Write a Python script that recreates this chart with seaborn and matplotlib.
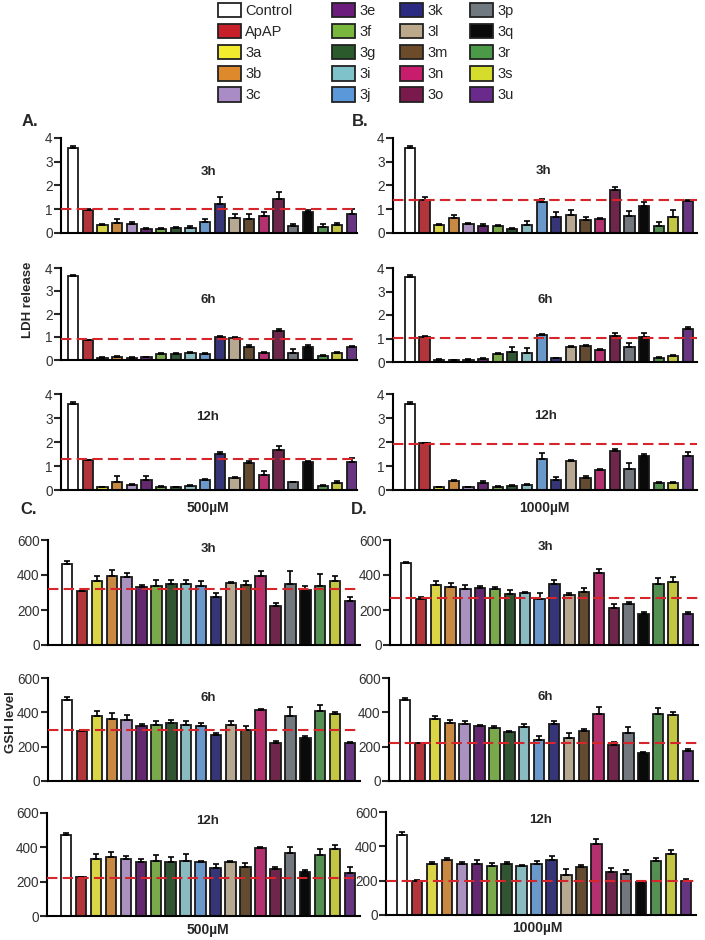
import numpy as np
import pandas as pd
import matplotlib
matplotlib.use('Agg')
import matplotlib.pyplot as plt
import seaborn as sns
from matplotlib.patches import Patch

# Compounds and their bar colours
compounds = ['Control', 'ApAP', '3a', '3b', '3c', '3e', '3f', '3g', '3i', '3j',
             '3k', '3l', '3m', '3n', '3o', '3p', '3q', '3r', '3s', '3u']
bar_colors = ['#FFFFFF', '#C8202A', '#F2EC2E', '#DE8A2C', '#A98BC6', '#6C1C7C',
              '#79B83C', '#2B5B2C', '#80C2CA', '#5A98DA', '#2A2A82', '#BCA98B',
              '#6B4B2A', '#C81C6C', '#7A1A4C', '#707880', '#0A0A0A', '#4A9A48',
              '#D6DC2C', '#6A2A8C']

# LDH release, 500 uM (3h / 6h / 12h) -- mean and upper error
ldh_500_3h = [3.58, 0.96, 0.33, 0.42, 0.37, 0.18, 0.18, 0.21, 0.23, 0.47, 1.20, 0.64, 0.57, 0.73, 1.44, 0.28, 0.89, 0.25, 0.35, 0.78]
ldh_500_3h_err = [0.10, 0.03, 0.07, 0.15, 0.10, 0.04, 0.04, 0.03, 0.05, 0.14, 0.32, 0.15, 0.25, 0.14, 0.30, 0.11, 0.08, 0.11, 0.09, 0.22]
ldh_500_6h = [3.64, 0.85, 0.10, 0.13, 0.10, 0.12, 0.26, 0.25, 0.29, 0.26, 0.99, 0.95, 0.55, 0.30, 1.27, 0.30, 0.58, 0.17, 0.30, 0.58]
ldh_500_6h_err = [0.07, 0.03, 0.03, 0.03, 0.03, 0.03, 0.06, 0.04, 0.05, 0.05, 0.06, 0.07, 0.10, 0.05, 0.08, 0.20, 0.06, 0.03, 0.06, 0.05]
ldh_500_12h = [3.58, 1.24, 0.11, 0.35, 0.20, 0.42, 0.14, 0.11, 0.17, 0.42, 1.49, 0.49, 1.11, 0.63, 1.67, 0.32, 1.18, 0.17, 0.28, 1.15]
ldh_500_12h_err = [0.07, 0.03, 0.03, 0.25, 0.07, 0.18, 0.03, 0.02, 0.03, 0.05, 0.11, 0.05, 0.10, 0.17, 0.17, 0.03, 0.03, 0.03, 0.10, 0.20]

# LDH release, 1000 uM
ldh_1000_3h = [3.58, 1.38, 0.35, 0.63, 0.38, 0.31, 0.28, 0.18, 0.35, 1.30, 0.67, 0.77, 0.53, 0.59, 1.80, 0.70, 1.12, 0.28, 0.66, 1.36]
ldh_1000_3h_err = [0.08, 0.14, 0.05, 0.14, 0.05, 0.05, 0.04, 0.03, 0.14, 0.13, 0.21, 0.18, 0.14, 0.05, 0.12, 0.21, 0.17, 0.17, 0.29, 0.03]
ldh_1000_6h = [3.62, 1.08, 0.10, 0.08, 0.10, 0.12, 0.34, 0.44, 0.40, 1.15, 0.16, 0.65, 0.68, 0.51, 1.11, 0.65, 1.05, 0.18, 0.27, 1.39]
ldh_1000_6h_err = [0.07, 0.03, 0.02, 0.02, 0.02, 0.03, 0.04, 0.21, 0.18, 0.05, 0.02, 0.04, 0.05, 0.04, 0.11, 0.14, 0.17, 0.04, 0.04, 0.11]
ldh_1000_12h = [3.58, 1.94, 0.11, 0.37, 0.11, 0.28, 0.14, 0.18, 0.20, 1.29, 0.40, 1.22, 0.51, 0.83, 1.64, 0.88, 1.43, 0.28, 0.28, 1.43]
ldh_1000_12h_err = [0.07, 0.03, 0.02, 0.04, 0.02, 0.08, 0.03, 0.03, 0.03, 0.24, 0.15, 0.04, 0.06, 0.05, 0.06, 0.24, 0.05, 0.04, 0.04, 0.17]

# GSH level, 500 uM
gsh_500_3h = [465, 307, 364, 392, 388, 330, 339, 348, 348, 339, 275, 354, 345, 396, 225, 348, 316, 339, 367, 250]
gsh_500_3h_err = [15, 4, 28, 38, 23, 15, 30, 25, 21, 25, 23, 8, 23, 25, 15, 76, 23, 66, 30, 25]
gsh_500_6h = [470, 292, 380, 360, 357, 322, 324, 337, 327, 322, 269, 327, 298, 411, 224, 380, 250, 405, 390, 220]
gsh_500_6h_err = [17, 4, 25, 35, 29, 12, 27, 16, 25, 16, 10, 20, 23, 8, 10, 49, 10, 39, 10, 10]
gsh_500_12h = [470, 225, 330, 346, 330, 312, 322, 316, 322, 312, 277, 316, 287, 398, 271, 365, 258, 355, 389, 252]
gsh_500_12h_err = [12, 4, 29, 25, 21, 18, 33, 29, 37, 10, 25, 6, 23, 6, 12, 35, 10, 35, 25, 31]

# GSH level, 1000 uM
gsh_1000_3h = [470, 261, 343, 333, 320, 328, 320, 290, 295, 261, 347, 286, 305, 410, 213, 232, 179, 347, 362, 175]
gsh_1000_3h_err = [5, 15, 23, 19, 23, 11, 13, 25, 10, 34, 25, 10, 19, 25, 19, 11, 8, 34, 29, 15]
gsh_1000_6h = [470, 220, 360, 337, 331, 318, 308, 288, 312, 236, 333, 250, 294, 392, 211, 279, 166, 390, 386, 177]
gsh_1000_6h_err = [12, 4, 16, 19, 21, 6, 14, 6, 20, 27, 14, 29, 10, 39, 16, 35, 4, 35, 16, 10]
gsh_1000_12h = [468, 199, 300, 319, 296, 296, 286, 296, 284, 300, 319, 232, 280, 414, 251, 238, 193, 315, 358, 197]
gsh_1000_12h_err = [15, 4, 10, 15, 14, 23, 19, 10, 10, 15, 23, 35, 14, 31, 23, 27, 6, 19, 19, 10]

# dashed reference (ApAP) levels
ldh_500_ref = [1.03, 0.90, 1.29]
ldh_1000_ref = [1.40, 1.03, 1.90]
gsh_500_ref = [318, 298, 219]
gsh_1000_ref = [270, 220, 197]
time_labels = ['3h', '6h', '12h']

W, H = 705, 940
sns.set_style('ticks')
plt.rcParams['font.family'] = ['Liberation Sans', 'DejaVu Sans']
palette = dict(zip(compounds, bar_colors))

fig = plt.figure(figsize=(W / 100, H / 100), dpi=100)


def px(x, y):
    return x / W, 1 - y / H


def make_ax(left, top, right, bottom):
    return fig.add_axes([left / W, 1 - bottom / H, (right - left) / W, (bottom - top) / H])


def draw_panel(ax, values, errors, ref, ymax, yticks, xlim):
    df = pd.DataFrame({'compound': compounds, 'value': values})
    sns.barplot(data=df, x='compound', y='value', hue='compound', palette=palette,
                order=compounds, hue_order=compounds, dodge=False, width=0.7,
                edgecolor='#1a1a1a', linewidth=1.3, legend=False, ax=ax)
    xpos = np.arange(len(compounds))
    ax.errorbar(xpos, values, yerr=[np.zeros(len(values)), errors], fmt='none',
                ecolor='black', elinewidth=1.2, capsize=2.5, capthick=1.2, zorder=3)
    ax.axhline(ref, color='#D7262B', lw=1.5, dashes=(5, 2.5), zorder=4)
    ax.set_xlim(*xlim)
    ax.set_ylim(0, ymax)
    ax.set_yticks(yticks)
    ax.set_xticks([])
    ax.set_xlabel('')
    ax.set_ylabel('')
    ax.spines[['top', 'right']].set_visible(False)
    for s in ['left', 'bottom']:
        ax.spines[s].set_linewidth(1.5)
        ax.spines[s].set_color('black')
    ax.tick_params(axis='y', length=5, width=1.5, labelsize=9.8, labelcolor='#333333', pad=1)
    ax.patch.set_alpha(0)


# panel geometry in pixels: (left, top, right, bottom)
ldh_a_boxes = [(61, 138, 357, 233), (61, 268, 357, 360), (61, 394, 357, 490)]
ldh_b_boxes = [(393, 138, 697, 233), (393, 268, 697, 362), (393, 394, 697, 490)]
gsh_c_boxes = [(48, 540, 360, 645), (48, 678, 360, 781), (47, 813, 360, 916)]
gsh_d_boxes = [(390, 540, 698, 645), (389, 678, 698, 781), (386, 812, 696, 915)]

ldh_a = [(ldh_500_3h, ldh_500_3h_err), (ldh_500_6h, ldh_500_6h_err), (ldh_500_12h, ldh_500_12h_err)]
ldh_b = [(ldh_1000_3h, ldh_1000_3h_err), (ldh_1000_6h, ldh_1000_6h_err), (ldh_1000_12h, ldh_1000_12h_err)]
gsh_c = [(gsh_500_3h, gsh_500_3h_err), (gsh_500_6h, gsh_500_6h_err), (gsh_500_12h, gsh_500_12h_err)]
gsh_d = [(gsh_1000_3h, gsh_1000_3h_err), (gsh_1000_6h, gsh_1000_6h_err), (gsh_1000_12h, gsh_1000_12h_err)]

title_pos = {
    'A': [(208, 172), (208, 300), (208, 417)],
    'B': [(543, 171), (545, 300), (546, 416)],
    'C': [(208, 549), (208, 698), (208, 821)],
    'D': [(545, 547), (545, 697), (541, 820)],
}

groups = [
    ('A', ldh_a_boxes, ldh_a, ldh_500_ref, 4, [0, 1, 2, 3, 4], (-0.82, 19.34)),
    ('B', ldh_b_boxes, ldh_b, ldh_1000_ref, 4, [0, 1, 2, 3, 4], (-1.16, 19.62)),
    ('C', gsh_c_boxes, gsh_c, gsh_500_ref, 600, [0, 200, 400, 600], (-1.28, 19.67)),
    ('D', gsh_d_boxes, gsh_d, gsh_1000_ref, 600, [0, 200, 400, 600], (-1.08, 19.67)),
]

for key, boxes, series, refs, ymax, yticks, xlim in groups:
    for i, (box, (vals, errs)) in enumerate(zip(boxes, series)):
        ax = make_ax(*box)
        draw_panel(ax, vals, errs, refs[i], ymax, yticks, xlim)
        tx, ty = title_pos[key][i]
        fig.text(*px(tx, ty), time_labels[i], ha='center', va='center',
                 fontsize=9.5, fontweight='bold')

# panel letters
for letter, (x, y) in {'A.': (22, 122), 'B.': (352, 122), 'C.': (20, 509), 'D.': (351, 509)}.items():
    fig.text(*px(x, y), letter, ha='left', va='center', fontsize=12, fontweight='bold')

# concentration labels
for label, (x, y) in [('500µM', (208, 508)), ('1000µM', (544, 508)),
                      ('500µM', (208, 930)), ('1000µM', (537, 928))]:
    fig.text(*px(x, y), label, ha='center', va='center', fontsize=10, fontweight='bold')

# y-axis labels
fig.text(*px(28, 300), 'LDH release', rotation=90, ha='center', va='center',
         fontsize=9.5, fontweight='bold')
fig.text(*px(11, 722), 'GSH level', rotation=90, ha='center', va='center',
         fontsize=9.5, fontweight='bold')

# legend: four columns of five entries
col_x = [218, 332, 400, 470]
for c in range(4):
    idx = range(c * 5, c * 5 + 5)
    handles = [Patch(facecolor=bar_colors[i], edgecolor='#222222', linewidth=1.3) for i in idx]
    labels = [compounds[i] for i in idx]
    fig.legend(handles, labels, loc='upper left', bbox_to_anchor=px(col_x[c], 3),
               frameon=False, fontsize=10.5, handlelength=1.6, handleheight=1.15,
               handletextpad=0.25, labelspacing=0.4, borderpad=0, borderaxespad=0)

fig.savefig('out.png', dpi=100)
